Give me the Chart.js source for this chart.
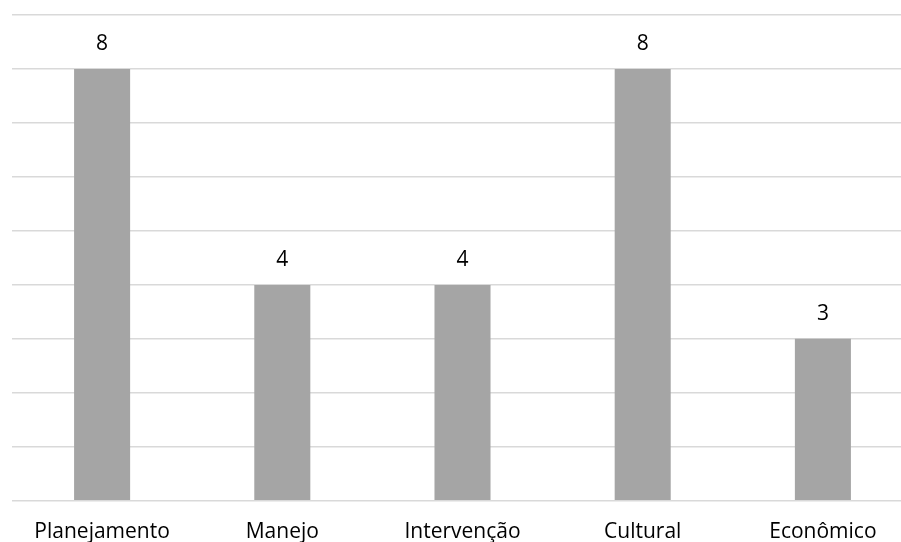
<!DOCTYPE html>
<html>
<head>
<meta charset="utf-8">
<script src="https://cdn.jsdelivr.net/npm/chart.js@4/dist/chart.umd.min.js"></script>
<style>
html,body{margin:0;padding:0;background:#fff;overflow:hidden;width:901px;height:542px;}
canvas{display:block;}
</style>
</head>
<body>
<canvas id="c" width="915" height="542"></canvas>
<script>
const categories = ["Planejamento", "Manejo", "Intervenção", "Cultural", "Econômico"];
const values = [8, 4, 4, 8, 3];
const yTicks = [0, 1, 2, 3, 4, 5, 6, 7, 8, 9];

const FONT = "'Open Sans', sans-serif";

const valueLabels = {
  id: 'valueLabels',
  afterDatasetsDraw(chart) {
    const ctx = chart.ctx;
    const meta = chart.getDatasetMeta(0);
    ctx.save();
    ctx.fillStyle = '#000';
    ctx.font = "21px " + FONT;
    ctx.textAlign = 'center';
    ctx.textBaseline = 'middle';
    meta.data.forEach((bar, i) => {
      ctx.fillText(String(values[i]), bar.x, bar.y - 25);
    });
    ctx.restore();
  }
};

new Chart(document.getElementById('c'), {
  type: 'bar',
  data: {
    labels: categories,
    datasets: [{
      data: values,
      backgroundColor: '#a5a5a5',
      borderWidth: 0,
      barPercentage: 1,
      categoryPercentage: 0.311
    }]
  },
  options: {
    responsive: false,
    animation: false,
    layout: { padding: { left: 12, right: 2, top: 15, bottom: -22 } },
    plugins: { legend: { display: false }, tooltip: { enabled: false } },
    scales: {
      x: {
        grid: { display: false, drawTicks: false },
        border: { display: false },
        ticks: { color: '#000', font: { family: FONT, size: 21 }, padding: 19, maxRotation: 0 }
      },
      y: {
        min: 0,
        max: 9,
        afterBuildTicks(axis) { axis.ticks = yTicks.map(v => ({ value: v })); },
        grid: { color: '#d9d9d9', lineWidth: 1.5, drawTicks: false },
        border: { display: false },
        ticks: { display: false }
      }
    }
  },
  plugins: [valueLabels]
});
</script>
</body>
</html>
